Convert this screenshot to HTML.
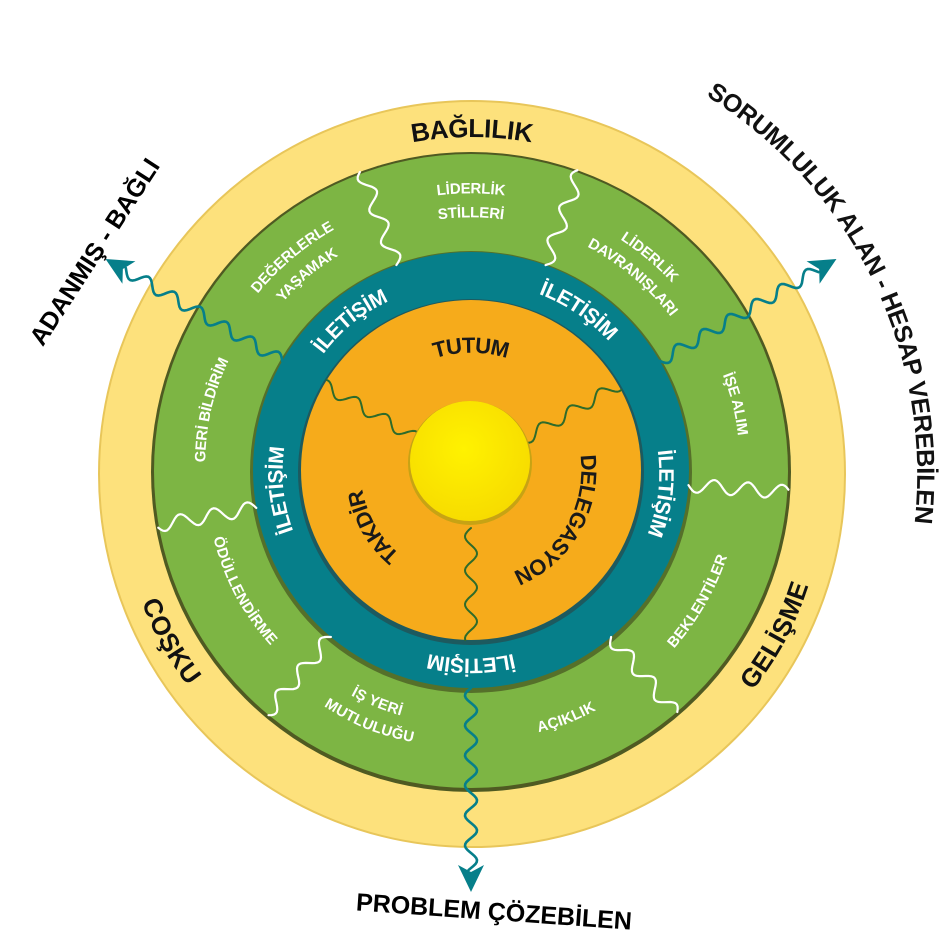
<!DOCTYPE html>
<html><head><meta charset="utf-8"><style>
html,body{margin:0;padding:0;background:#fff;width:945px;height:945px;overflow:hidden}
svg{display:block}
text{font-family:"Liberation Sans",sans-serif}
</style></head><body>
<svg id="s" width="945" height="945" viewBox="0 0 945 945" xmlns="http://www.w3.org/2000/svg">
<defs>
<radialGradient id="cg" cx="45%" cy="40%" r="60%"><stop offset="0" stop-color="#fff200"/><stop offset="1" stop-color="#f7dc00"/></radialGradient>
</defs>
<circle cx="472" cy="474" r="373" fill="#fde17c"/>
<circle cx="472" cy="474" r="373" fill="none" stroke="#e8c65a" stroke-width="2"/>
<circle cx="471" cy="472" r="320" fill="#4f5a22"/>
<circle cx="471" cy="471" r="317" fill="#7db544"/>
<circle cx="471" cy="472" r="221" fill="#55702a"/>
<circle cx="471" cy="470" r="218" fill="#067f8a"/>
<circle cx="471" cy="472" r="173" fill="#1d5a5f"/>
<circle cx="471" cy="470" r="170" fill="#f6ab1b"/>
<g id="waves"></g>
<circle cx="470" cy="463" r="62" fill="#c7a314"/>
<circle cx="470" cy="461" r="60" fill="url(#cg)"/>
<g id="labels"></g>
<text x="0" y="0" font-size="25" font-weight="bold" fill="#000" transform="translate(95,252) rotate(-57)" text-anchor="middle" dominant-baseline="central">ADANMIŞ - BAĞLI</text>
<text x="0" y="0" font-size="25" font-weight="bold" fill="#000" transform="translate(494,912) rotate(4)" text-anchor="middle" dominant-baseline="central">PROBLEM ÇÖZEBİLEN</text>
</svg>
<script>
var NS="http://www.w3.org/2000/svg",cx=471,cy=470;
function el(t,at,p){var e=document.createElementNS(NS,t);for(var k in at)e.setAttribute(k,at[k]);(p||document.getElementById('s')).appendChild(e);return e;}
var W=document.getElementById('waves'),L=document.getElementById('labels');
function wave(a,r1,r2,col,w,amp,lam){
 var d="",a0=a*Math.PI/180;var ux=Math.sin(a0),uy=-Math.cos(a0),px=-uy,py=ux;
 for(var r=r1;r<=r2;r+=2){var o=amp*Math.sin(2*Math.PI*(r-r1)/lam);var x=cx+r*ux+o*px,y=cy+r*uy+o*py;d+=(d?"L":"M")+x.toFixed(1)+","+y.toFixed(1);}
 el('path',{d:d,fill:'none',stroke:col,'stroke-width':w,'stroke-linecap':'round'},W);
}
[20,94,140,220,260,340].forEach(function(a){wave(a,218,318,'#ffffff',2.2,7,34);});
[300,60,180].forEach(function(a){wave(a,58,170,'#2f6b2a',2,6,34);});
[300,60,180].forEach(function(a){wave(a,218,400,'#067f8a',2.6,6,30);});
function arrow(a){var r=395,r2=422;var a0=a*Math.PI/180,ux=Math.sin(a0),uy=-Math.cos(a0),px=-uy,py=ux;
 var tip=[cx+r2*ux,cy+r2*uy],b=[cx+r*ux,cy+r*uy],n=[cx+(r+7)*ux,cy+(r+7)*uy];
 var l=[b[0]+13*px,b[1]+13*py],rr=[b[0]-13*px,b[1]-13*py];
 el('path',{d:'M'+tip+'L'+l+'L'+n+'L'+rr+'Z',fill:'#067f8a'},W);}
arrow(300);arrow(60);arrow(180);
var idc=0;
function arc(txt,r,a,cw,size,col,wt,c){
 var ccx=c?c[0]:cx,ccy=c?c[1]:cy;
 function P(ang){ang=ang*Math.PI/180;return (ccx+r*Math.sin(ang)).toFixed(1)+","+(ccy-r*Math.cos(ang)).toFixed(1);}
 var id='p'+(idc++),s=a+180,d;
 if(cw) d='M'+P(s)+'A'+r+','+r+' 0 0 1 '+P(s+180)+'A'+r+','+r+' 0 0 1 '+P(s+360);
 else d='M'+P(s)+'A'+r+','+r+' 0 0 0 '+P(s-180)+'A'+r+','+r+' 0 0 0 '+P(s-360);
 el('path',{id:id,d:d,fill:'none'},L);
 var t=el('text',{'font-size':size,'font-weight':wt||'normal',fill:col,dy:(size*0.35).toFixed(1)},L);
 var tp=el('textPath',{href:'#'+id,startOffset:'50%','text-anchor':'middle'},t);tp.textContent=txt;
}
arc('BAĞLILIK',346,0,1,26,'#111','bold',[472,474]);
arc('GELİŞME',346,118,0,26,'#111','bold',[472,474]);
arc('COŞKU',346,241,0,26,'#111','bold',[472,474]);
arc('SORUMLULUK ALAN - HESAP VEREBİLEN',455,64,1,25,'#111','bold',[471,475]);
[321,34,97,180,264].forEach(function(a){arc('İLETİŞİM',196,a,1,21,'#fff','bold');});
arc('TUTUM',125,0,1,22,'#1a1a1a','bold');
arc('DELEGASYON',118,120,1,22,'#1a1a1a','bold');
arc('TAKDİR',118,240,1,22,'#1a1a1a','bold');
var g='#fff',fs=15,b='bold';
arc('LİDERLİK',282,0,1,fs,g,b);arc('STİLLERİ',258,0,1,fs,g,b);
arc('LİDERLİK',280,40,1,fs,g,b);arc('DAVRANIŞLARI',257,40,1,fs,g,b);
arc('İŞE ALIM',275,76,1,fs,g,b);
arc('BEKLENTİLER',265,120,0,fs,g,b);
arc('AÇIKLIK',266,159,0,fs,g,b);
arc('İŞ YERİ',250,202,0,fs,g,b);arc('MUTLULUĞU',274,202,0,fs,g,b);
arc('ÖDÜLLENDİRME',262,242,0,fs,g,b);
arc('GERİ BİLDİRİM',272,283,1,fs,g,b);
arc('DEĞERLERLE',282,320,1,fs,g,b);arc('YAŞAMAK',258,320,1,fs,g,b);
</script>
</body></html>
